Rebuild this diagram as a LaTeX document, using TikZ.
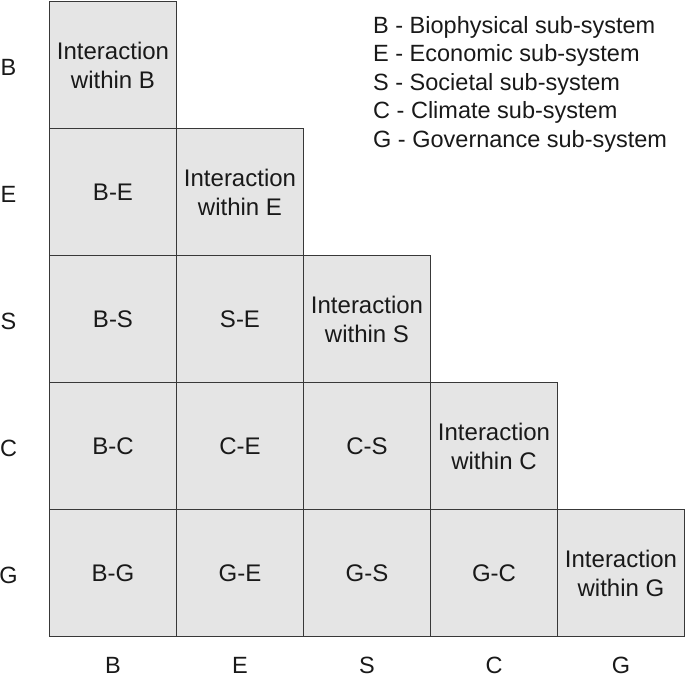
\documentclass[tikz,border=0pt]{standalone}
\usepackage{fontspec}
\setmainfont{Liberation Sans}
\begin{document}
\begin{tikzpicture}[x=1pt,y=-1pt,
  cell/.style={draw=black!78,line width=1.3pt,fill=black!10,minimum width=127pt,minimum height=127pt,inner sep=0pt,align=center,font=\fontsize{24}{29}\selectfont,text=black!90},
  axlab/.style={font=\fontsize{23.5}{29}\selectfont,text=black!90,inner sep=0pt},
  leg/.style={font=\fontsize{23.5}{29}\selectfont,text=black!90,inner sep=0pt,anchor=base west}]
\useasboundingbox (0,0) rectangle (685,677);
% cells
\node[cell] (bb) at (113,65) {Interaction\\within B};
\node[cell] (eb) at (113,192) {B-E};
\node[cell] (ee) at (240,192) {Interaction\\within E};
\node[cell] (sb) at (113,319) {B-S};
\node[cell] (se) at (240,319) {S-E};
\node[cell] (ss) at (367,319) {Interaction\\within S};
\node[cell] (cb) at (113,446) {B-C};
\node[cell] (ce) at (240,446) {C-E};
\node[cell] (cs) at (367,446) {C-S};
\node[cell] (cc) at (494,446) {Interaction\\within C};
\node[cell] (gb) at (113,573) {B-G};
\node[cell] (ge) at (240,573) {G-E};
\node[cell] (gs) at (367,573) {G-S};
\node[cell] (gc) at (494,573) {G-C};
\node[cell] (gg) at (621,573) {Interaction\\within G};
% row labels
\node[axlab] (rB) at (8.5,67) {B};
\node[axlab] (rE) at (8.5,194) {E};
\node[axlab] (rS) at (8.5,321) {S};
\node[axlab] (rC) at (8.5,448) {C};
\node[axlab] (rG) at (8.5,575) {G};
% column labels
\node[axlab] (kB) at (113,665) {B};
\node[axlab] (kE) at (240,665) {E};
\node[axlab] (kS) at (367,665) {S};
\node[axlab] (kC) at (494,665) {C};
\node[axlab] (kG) at (621,665) {G};
% legend
\node[leg] (l1) at (373,34) {B - Biophysical sub-system};
\node[leg] (l2) at (373,62) {E - Economic sub-system};
\node[leg] (l3) at (373,90) {S - Societal sub-system};
\node[leg] (l4) at (373,118) {C - Climate sub-system};
\node[leg] (l5) at (373,147) {G - Governance sub-system};
\end{tikzpicture}
\end{document}
